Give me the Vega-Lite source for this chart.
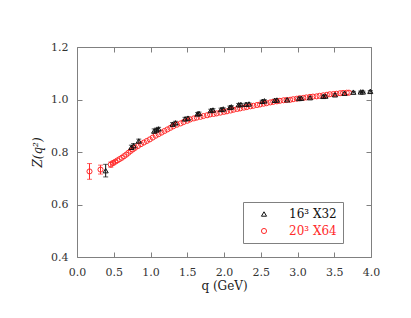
{
  "$schema": "https://vega.github.io/schema/vega-lite/v6.json",
  "width": 294,
  "height": 210,
  "autosize": {"type": "none"},
  "padding": {"left": 77, "top": 47, "right": 40, "bottom": 61},
  "background": "white",
  "config": {
    "view": {"stroke": null},
    "font": "DejaVu Serif",
    "axis": {
      "grid": false,
      "domainColor": "#808080",
      "tickColor": "#808080",
      "tickSize": -5,
      "labelFont": "DejaVu Serif",
      "labelFontSize": 11,
      "labelColor": "#333333",
      "titleFont": "DejaVu Serif",
      "titleFontSize": 12,
      "titleFontWeight": "normal",
      "titleColor": "#222222"
    }
  },
  "data": {
    "values": [
      {"series": "20³ X64", "q": 0.17, "z": 0.726, "e": 0.030},
      {"series": "20³ X64", "q": 0.32, "z": 0.733, "e": 0.017},
      {"series": "20³ X64", "q": 0.46, "z": 0.752, "e": 0.010},
      {"series": "20³ X64", "q": 0.49, "z": 0.758, "e": 0.007},
      {"series": "20³ X64", "q": 0.52, "z": 0.763, "e": 0.005},
      {"series": "20³ X64", "q": 0.55, "z": 0.768, "e": 0.004},
      {"series": "20³ X64", "q": 0.58, "z": 0.773, "e": 0.004},
      {"series": "20³ X64", "q": 0.61, "z": 0.778, "e": 0.004},
      {"series": "20³ X64", "q": 0.64, "z": 0.784, "e": 0.004},
      {"series": "20³ X64", "q": 0.67, "z": 0.790, "e": 0.004},
      {"series": "20³ X64", "q": 0.70, "z": 0.797, "e": 0.004},
      {"series": "20³ X64", "q": 0.73, "z": 0.804, "e": 0.004},
      {"series": "20³ X64", "q": 0.76, "z": 0.810, "e": 0.004},
      {"series": "20³ X64", "q": 0.79, "z": 0.816, "e": 0.004},
      {"series": "20³ X64", "q": 0.83, "z": 0.823, "e": 0.004},
      {"series": "20³ X64", "q": 0.87, "z": 0.830, "e": 0.004},
      {"series": "20³ X64", "q": 0.91, "z": 0.836, "e": 0.004},
      {"series": "20³ X64", "q": 0.95, "z": 0.842, "e": 0.004},
      {"series": "20³ X64", "q": 0.99, "z": 0.848, "e": 0.004},
      {"series": "20³ X64", "q": 1.03, "z": 0.855, "e": 0.004},
      {"series": "20³ X64", "q": 1.07, "z": 0.862, "e": 0.004},
      {"series": "20³ X64", "q": 1.11, "z": 0.868, "e": 0.004},
      {"series": "20³ X64", "q": 1.15, "z": 0.874, "e": 0.004},
      {"series": "20³ X64", "q": 1.19, "z": 0.880, "e": 0.004},
      {"series": "20³ X64", "q": 1.23, "z": 0.886, "e": 0.004},
      {"series": "20³ X64", "q": 1.27, "z": 0.892, "e": 0.004},
      {"series": "20³ X64", "q": 1.31, "z": 0.898, "e": 0.003},
      {"series": "20³ X64", "q": 1.36, "z": 0.904, "e": 0.003},
      {"series": "20³ X64", "q": 1.41, "z": 0.909, "e": 0.003},
      {"series": "20³ X64", "q": 1.45, "z": 0.914, "e": 0.003},
      {"series": "20³ X64", "q": 1.50, "z": 0.919, "e": 0.003},
      {"series": "20³ X64", "q": 1.54, "z": 0.924, "e": 0.003},
      {"series": "20³ X64", "q": 1.59, "z": 0.928, "e": 0.003},
      {"series": "20³ X64", "q": 1.63, "z": 0.931, "e": 0.003},
      {"series": "20³ X64", "q": 1.68, "z": 0.934, "e": 0.003},
      {"series": "20³ X64", "q": 1.72, "z": 0.937, "e": 0.003},
      {"series": "20³ X64", "q": 1.77, "z": 0.940, "e": 0.003},
      {"series": "20³ X64", "q": 1.81, "z": 0.943, "e": 0.003},
      {"series": "20³ X64", "q": 1.86, "z": 0.945, "e": 0.003},
      {"series": "20³ X64", "q": 1.90, "z": 0.947, "e": 0.003},
      {"series": "20³ X64", "q": 1.95, "z": 0.950, "e": 0.003},
      {"series": "20³ X64", "q": 2.00, "z": 0.953, "e": 0.003},
      {"series": "20³ X64", "q": 2.04, "z": 0.955, "e": 0.003},
      {"series": "20³ X64", "q": 2.09, "z": 0.958, "e": 0.003},
      {"series": "20³ X64", "q": 2.13, "z": 0.961, "e": 0.003},
      {"series": "20³ X64", "q": 2.18, "z": 0.964, "e": 0.003},
      {"series": "20³ X64", "q": 2.22, "z": 0.966, "e": 0.003},
      {"series": "20³ X64", "q": 2.27, "z": 0.969, "e": 0.003},
      {"series": "20³ X64", "q": 2.31, "z": 0.971, "e": 0.003},
      {"series": "20³ X64", "q": 2.36, "z": 0.974, "e": 0.003},
      {"series": "20³ X64", "q": 2.40, "z": 0.976, "e": 0.003},
      {"series": "20³ X64", "q": 2.45, "z": 0.979, "e": 0.003},
      {"series": "20³ X64", "q": 2.49, "z": 0.981, "e": 0.003},
      {"series": "20³ X64", "q": 2.54, "z": 0.984, "e": 0.003},
      {"series": "20³ X64", "q": 2.58, "z": 0.986, "e": 0.003},
      {"series": "20³ X64", "q": 2.63, "z": 0.989, "e": 0.003},
      {"series": "20³ X64", "q": 2.67, "z": 0.991, "e": 0.003},
      {"series": "20³ X64", "q": 2.72, "z": 0.993, "e": 0.003},
      {"series": "20³ X64", "q": 2.76, "z": 0.995, "e": 0.003},
      {"series": "20³ X64", "q": 2.81, "z": 0.997, "e": 0.003},
      {"series": "20³ X64", "q": 2.85, "z": 0.998, "e": 0.003},
      {"series": "20³ X64", "q": 2.90, "z": 0.999, "e": 0.003},
      {"series": "20³ X64", "q": 2.94, "z": 1.001, "e": 0.003},
      {"series": "20³ X64", "q": 2.99, "z": 1.003, "e": 0.003},
      {"series": "20³ X64", "q": 3.03, "z": 1.005, "e": 0.003},
      {"series": "20³ X64", "q": 3.08, "z": 1.006, "e": 0.003},
      {"series": "20³ X64", "q": 3.12, "z": 1.008, "e": 0.003},
      {"series": "20³ X64", "q": 3.17, "z": 1.010, "e": 0.003},
      {"series": "20³ X64", "q": 3.21, "z": 1.011, "e": 0.003},
      {"series": "20³ X64", "q": 3.26, "z": 1.012, "e": 0.003},
      {"series": "20³ X64", "q": 3.30, "z": 1.014, "e": 0.003},
      {"series": "20³ X64", "q": 3.35, "z": 1.016, "e": 0.003},
      {"series": "20³ X64", "q": 3.40, "z": 1.018, "e": 0.003},
      {"series": "20³ X64", "q": 3.44, "z": 1.020, "e": 0.003},
      {"series": "20³ X64", "q": 3.49, "z": 1.021, "e": 0.003},
      {"series": "20³ X64", "q": 3.53, "z": 1.022, "e": 0.003},
      {"series": "20³ X64", "q": 3.58, "z": 1.024, "e": 0.003},
      {"series": "20³ X64", "q": 3.62, "z": 1.025, "e": 0.003},
      {"series": "20³ X64", "q": 3.67, "z": 1.026, "e": 0.003},
      {"series": "20³ X64", "q": 3.70, "z": 1.026, "e": 0.003},
      {"series": "16³ X32", "q": 0.39, "z": 0.729, "e": 0.024},
      {"series": "16³ X32", "q": 0.74, "z": 0.818, "e": 0.008},
      {"series": "16³ X32", "q": 0.77, "z": 0.824, "e": 0.008},
      {"series": "16³ X32", "q": 0.84, "z": 0.842, "e": 0.007},
      {"series": "16³ X32", "q": 1.05, "z": 0.880, "e": 0.008},
      {"series": "16³ X32", "q": 1.08, "z": 0.884, "e": 0.007},
      {"series": "16³ X32", "q": 1.11, "z": 0.888, "e": 0.006},
      {"series": "16³ X32", "q": 1.30, "z": 0.906, "e": 0.006},
      {"series": "16³ X32", "q": 1.34, "z": 0.911, "e": 0.006},
      {"series": "16³ X32", "q": 1.47, "z": 0.926, "e": 0.006},
      {"series": "16³ X32", "q": 1.51, "z": 0.929, "e": 0.005},
      {"series": "16³ X32", "q": 1.64, "z": 0.945, "e": 0.005},
      {"series": "16³ X32", "q": 1.66, "z": 0.947, "e": 0.005},
      {"series": "16³ X32", "q": 1.82, "z": 0.958, "e": 0.005},
      {"series": "16³ X32", "q": 1.85, "z": 0.960, "e": 0.005},
      {"series": "16³ X32", "q": 1.96, "z": 0.962, "e": 0.005},
      {"series": "16³ X32", "q": 1.99, "z": 0.964, "e": 0.004},
      {"series": "16³ X32", "q": 2.08, "z": 0.970, "e": 0.005},
      {"series": "16³ X32", "q": 2.10, "z": 0.972, "e": 0.004},
      {"series": "16³ X32", "q": 2.20, "z": 0.980, "e": 0.005},
      {"series": "16³ X32", "q": 2.23, "z": 0.981, "e": 0.004},
      {"series": "16³ X32", "q": 2.30, "z": 0.982, "e": 0.004},
      {"series": "16³ X32", "q": 2.34, "z": 0.983, "e": 0.004},
      {"series": "16³ X32", "q": 2.52, "z": 0.993, "e": 0.004},
      {"series": "16³ X32", "q": 2.55, "z": 0.995, "e": 0.004},
      {"series": "16³ X32", "q": 2.69, "z": 0.997, "e": 0.004},
      {"series": "16³ X32", "q": 2.72, "z": 0.998, "e": 0.004},
      {"series": "16³ X32", "q": 2.86, "z": 0.999, "e": 0.004},
      {"series": "16³ X32", "q": 3.02, "z": 1.004, "e": 0.004},
      {"series": "16³ X32", "q": 3.05, "z": 1.005, "e": 0.004},
      {"series": "16³ X32", "q": 3.17, "z": 1.007, "e": 0.004},
      {"series": "16³ X32", "q": 3.35, "z": 1.012, "e": 0.004},
      {"series": "16³ X32", "q": 3.38, "z": 1.013, "e": 0.004},
      {"series": "16³ X32", "q": 3.51, "z": 1.018, "e": 0.004},
      {"series": "16³ X32", "q": 3.64, "z": 1.024, "e": 0.004},
      {"series": "16³ X32", "q": 3.76, "z": 1.028, "e": 0.003},
      {"series": "16³ X32", "q": 3.86, "z": 1.029, "e": 0.003},
      {"series": "16³ X32", "q": 3.89, "z": 1.029, "e": 0.003},
      {"series": "16³ X32", "q": 3.99, "z": 1.031, "e": 0.003}
    ]
  },
  "resolve": {"axis": {"x": "independent", "y": "independent"}},
  "layer": [
    {
      "transform": [{"filter": "datum.series == '16³ X32'"}],
      "mark": {"type": "errorbar", "ticks": {"size": 5}, "thickness": 1, "color": "#111111"},
      "encoding": {
        "x": {
          "field": "q", "type": "quantitative",
          "scale": {"domain": [0, 4], "nice": false},
          "axis": {"orient": "bottom", "values": [0, 0.5, 1, 1.5, 2, 2.5, 3, 3.5, 4], "format": ".1f", "labelPadding": 14, "title": "q (GeV)", "titlePadding": 3, "labelFlush": false}
        },
        "y": {
          "field": "z", "type": "quantitative",
          "scale": {"domain": [0.4, 1.2], "nice": false, "zero": false},
          "axis": {"orient": "left", "values": [0.4, 0.6, 0.8, 1.0, 1.2], "format": ".1f", "labelPadding": 14, "title": "Z(q²)", "titleFontStyle": "italic", "titlePadding": 6, "labelFlush": false}
        },
        "yError": {"field": "e"}
      }
    },
    {
      "transform": [{"filter": "datum.series == '20³ X64' && datum.e >= 0.005"}],
      "mark": {"type": "errorbar", "ticks": {"size": 5}, "thickness": 1, "color": "#ff2a2a"},
      "encoding": {
        "x": {"field": "q", "type": "quantitative", "scale": {"domain": [0, 4], "nice": false}, "axis": null},
        "y": {"field": "z", "type": "quantitative", "scale": {"domain": [0.4, 1.2], "nice": false, "zero": false}, "axis": null},
        "yError": {"field": "e"}
      }
    },
    {
      "mark": {"type": "point", "filled": false, "size": 26, "strokeWidth": 1, "opacity": 1},
      "encoding": {
        "x": {
          "field": "q", "type": "quantitative",
          "scale": {"domain": [0, 4], "nice": false},
          "axis": {"orient": "top", "values": [0, 0.5, 1, 1.5, 2, 2.5, 3, 3.5, 4], "labels": false, "title": null}
        },
        "y": {
          "field": "z", "type": "quantitative",
          "scale": {"domain": [0.4, 1.2], "nice": false, "zero": false},
          "axis": {"orient": "right", "values": [0.4, 0.6, 0.8, 1.0, 1.2], "labels": false, "title": null}
        },
        "color": {
          "field": "series", "type": "nominal",
          "scale": {"domain": ["16³ X32", "20³ X64"], "range": ["#111111", "#ff2a2a"]},
          "legend": {
            "orient": "none", "legendX": 166, "legendY": 155, "title": null,
            "strokeColor": "#808080", "fillColor": "white", "padding": 6,
            "symbolOffset": 9, "labelOffset": 19,
            "labelFont": "DejaVu Serif", "labelFontSize": 12,
            "symbolSize": 26, "symbolStrokeWidth": 1, "rowPadding": 5,
            "labelColor": {"expr": "datum.value == '20³ X64' ? '#ff2a2a' : '#111111'"},
            "labelExpr": "datum.label + '\u00a0\u00a0\u00a0\u00a0\u00a0\u00a0'"
          }
        },
        "shape": {
          "field": "series", "type": "nominal",
          "scale": {"domain": ["16³ X32", "20³ X64"], "range": ["triangle-up", "circle"]}
        }
      }
    }
  ]
}
